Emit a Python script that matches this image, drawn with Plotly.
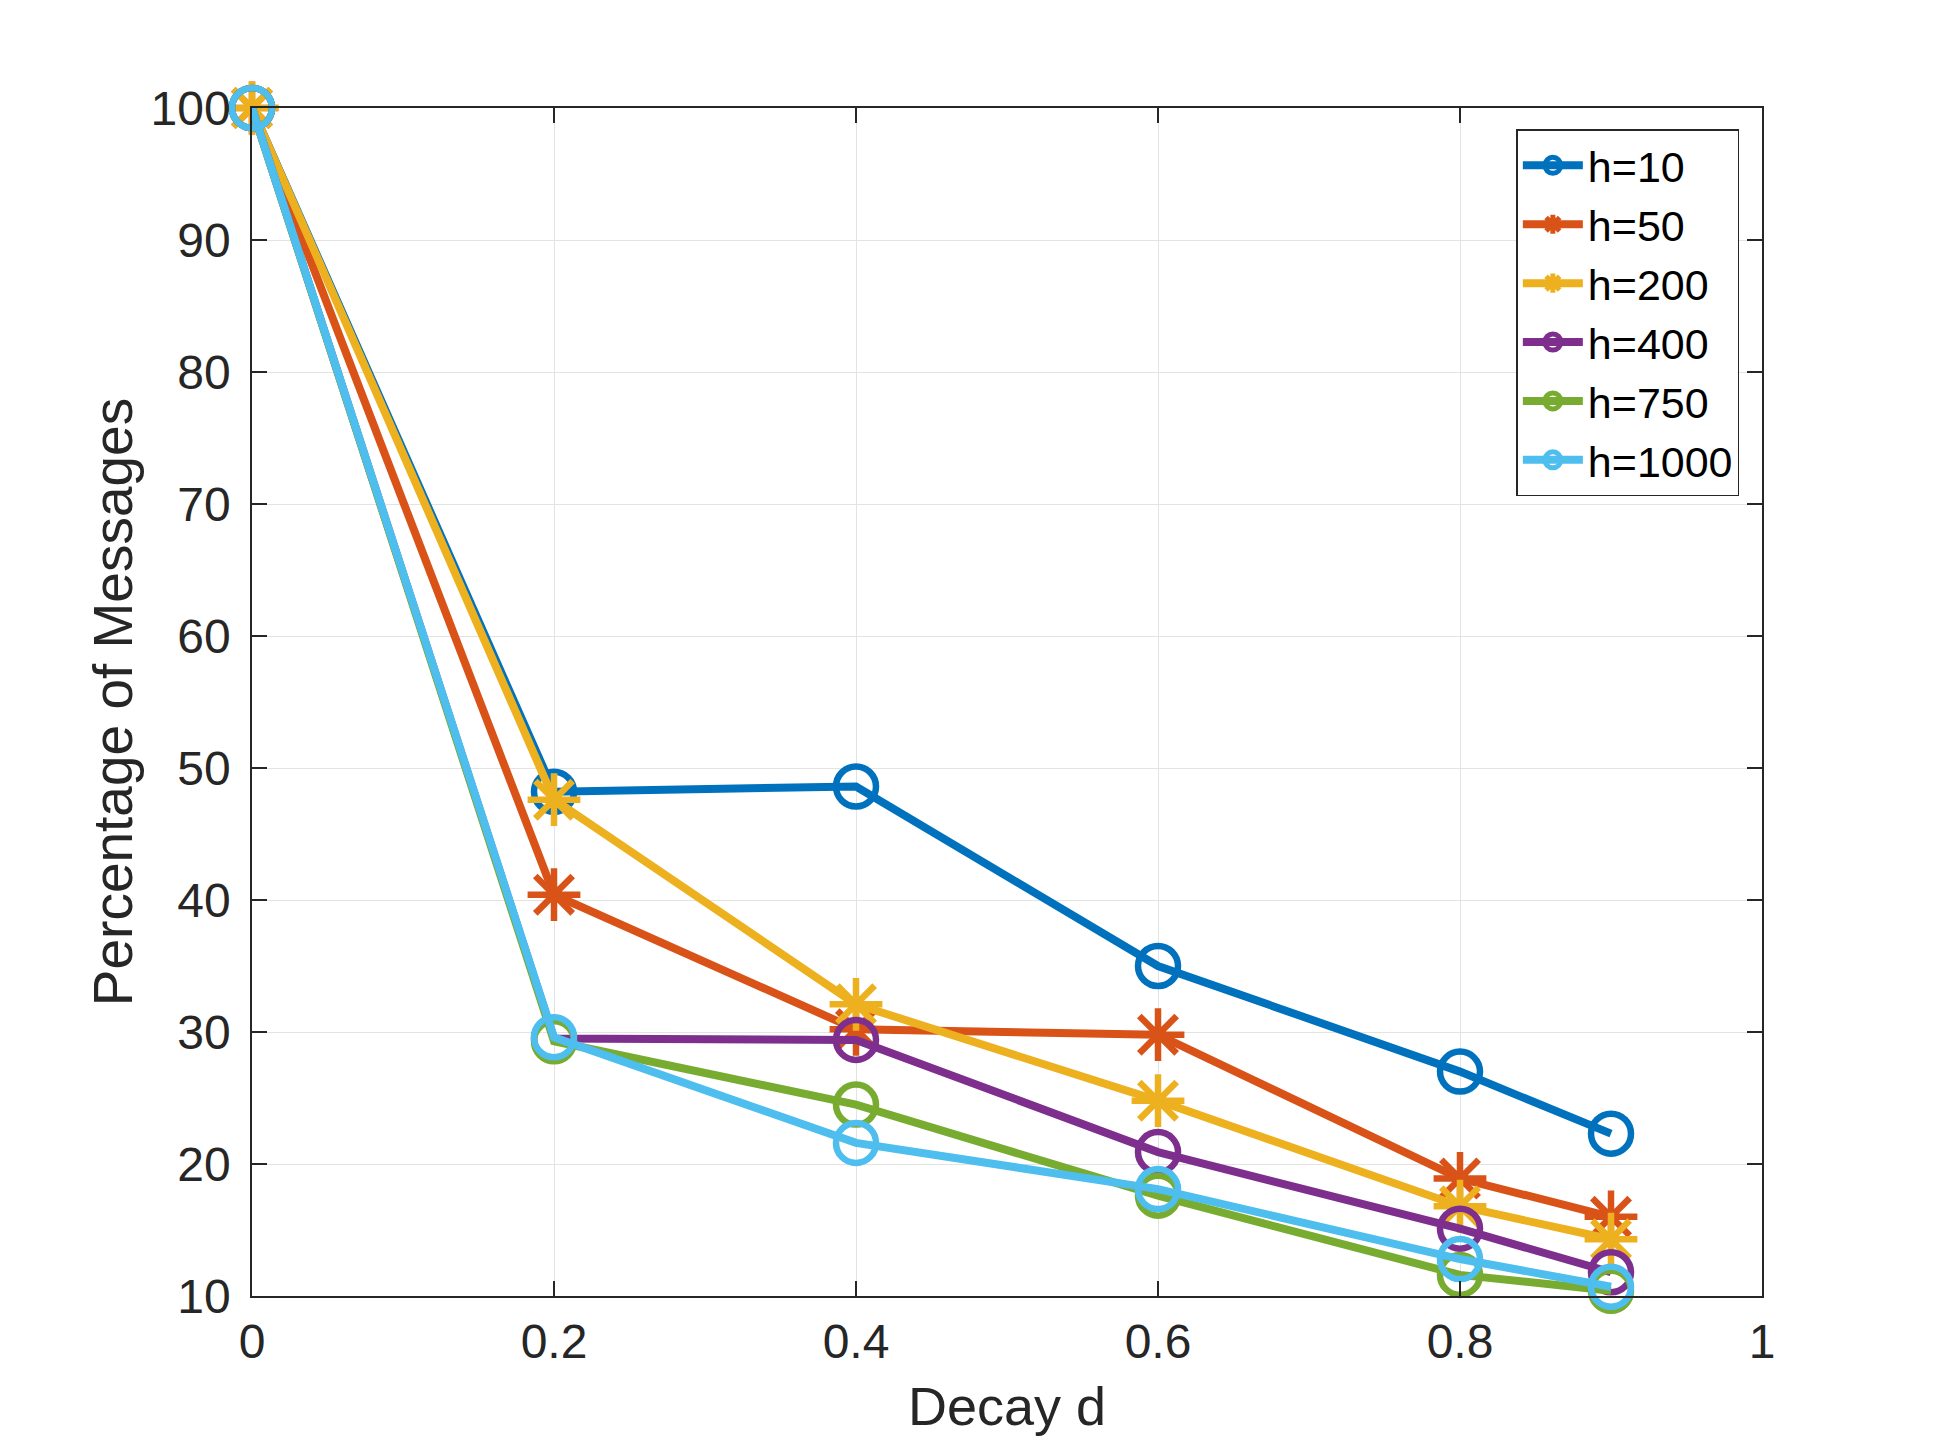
import plotly.graph_objects as go

decay = [0, 0.2, 0.4, 0.6, 0.8, 0.9]

h10 = [100, 48.2, 48.6, 35.0, 27.0, 22.3]
h50 = [100, 40.4, 30.2, 29.8, 18.9, 16.0]
h200 = [100, 47.6, 32.1, 24.8, 16.8, 14.3]
h400 = [100, 29.5, 29.4, 20.9, 15.1, 11.8]
h750 = [100, 29.3, 24.5, 17.6, 11.6, 10.4]
h1000 = [100, 29.6, 21.6, 18.1, 12.8, 10.7]

names = ["h=10", "h=50", "h=200", "h=400", "h=750", "h=1000"]
series = [h10, h50, h200, h400, h750, h1000]
colors = ["#0072BD", "#D95319", "#EDB120", "#7E2F8E", "#77AC30", "#4DBEEE"]
symbols = ["circle-open", "asterisk-open", "asterisk-open", "circle-open", "circle-open", "circle-open"]

x_ticks = [0, 0.2, 0.4, 0.6, 0.8, 1]
x_tick_labels = ["0", "0.2", "0.4", "0.6", "0.8", "1"]
y_ticks = [10, 20, 30, 40, 50, 60, 70, 80, 90, 100]

fig = go.Figure()
for name, ys, col, sym in zip(names, series, colors, symbols):
    is_circle = sym == "circle-open"
    fig.add_trace(go.Scatter(
        x=decay, y=ys, name=name, mode="lines+markers",
        line=dict(color=col, width=8),
        marker=dict(symbol=sym, size=40 if is_circle else 44,
                    color=col, line=dict(color=col, width=6.5)),
        cliponaxis=False,
    ))

font_family = "Liberation Sans, Arial, Helvetica, sans-serif"
axis_common = dict(
    showline=True, linecolor="#262626", linewidth=1.5, mirror="ticks",
    ticks="inside", ticklen=15, tickwidth=1.5, tickcolor="#262626",
    showgrid=True, gridcolor="#e3e3e3", gridwidth=1.2, zeroline=False,
    tickfont=dict(family=font_family, size=48, color="#262626"),
)

fig.update_layout(
    width=1928, height=1440,
    paper_bgcolor="white", plot_bgcolor="white",
    margin=dict(l=244, r=174, t=100, b=152),
    xaxis=dict(range=[0, 1], tickvals=x_ticks, ticktext=x_tick_labels,
               ticklabelstandoff=3,
               title=dict(text="Decay d", font=dict(family=font_family, size=54, color="#262626"), standoff=20),
               **axis_common),
    yaxis=dict(range=[10, 100], tickvals=y_ticks, ticklabelstandoff=10,
               title=dict(text="Percentage of Messages", font=dict(family=font_family, size=55, color="#262626"), standoff=0),
               **axis_common),
    legend=dict(x=0.985, y=0.982, xanchor="right", yanchor="top",
                bgcolor="white", bordercolor="#262626", borderwidth=1.5,
                font=dict(family=font_family, size=43, color="black"),
                tracegroupgap=0, itemwidth=60, itemsizing="trace"),
    showlegend=True,
)

fig.write_html("out.html")
